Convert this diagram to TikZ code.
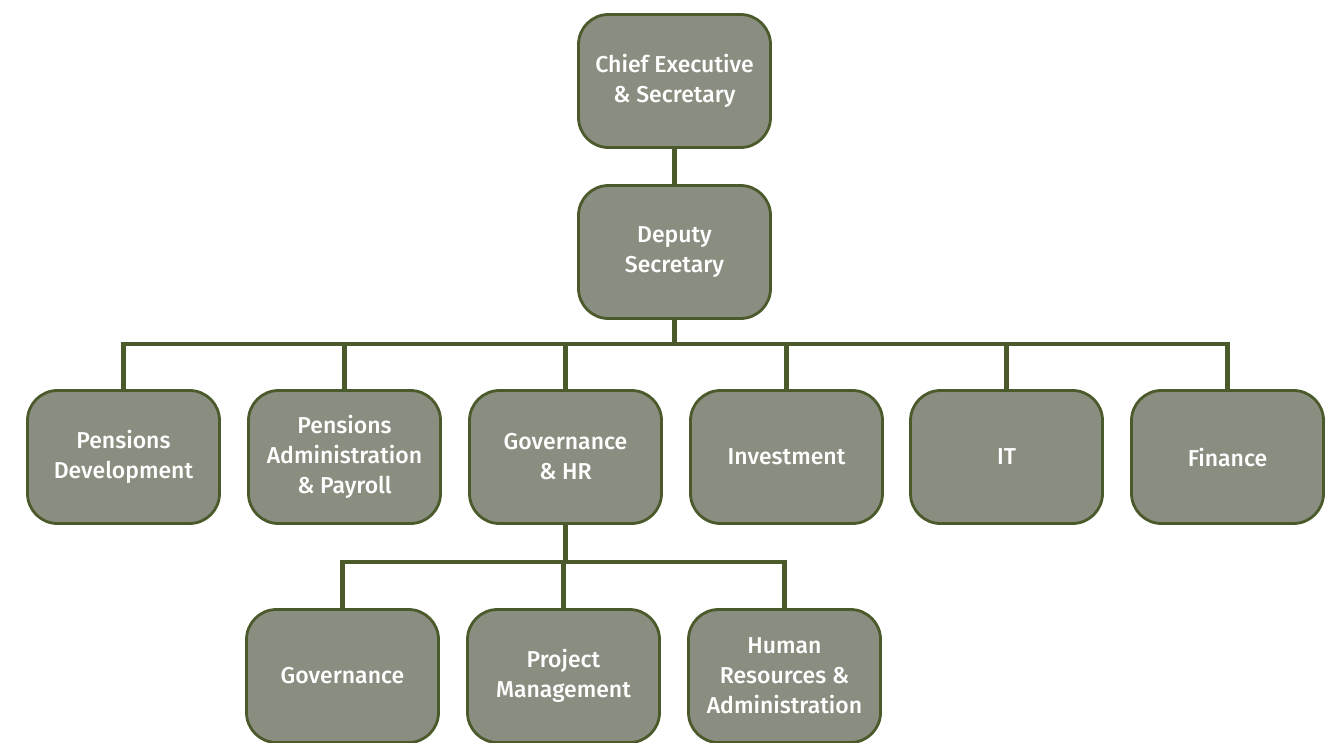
\documentclass[tikz,border=0pt]{standalone}
\usepackage{fontspec}
\setmainfont{Fira Sans}[UprightFont=* Medium]
\definecolor{boxfill}{HTML}{898E80}
\definecolor{edge}{HTML}{4B5A2B}
\begin{document}
\begin{tikzpicture}[x=1pt,y=-1pt,
  unit/.style={draw=edge,line width=2.8pt,fill=boxfill,rounded corners=30pt,
    minimum width=192pt,minimum height=133pt,align=center,text=white,
    font=\fontsize{23}{30}\selectfont,inner sep=0pt},
  link/.style={draw=edge,line width=4.2pt}]
\useasboundingbox (0,0) rectangle (1335,742);
\begin{scope}
\clip (0,0) rectangle (1335,742);
\node[unit] (ce) at (674.5,81) {Chief Executive\\\& Secretary};
\node[unit] (ds) at (674.5,252) {Deputy\\Secretary};
\node[unit] (pd) at (123.5,457) {Pensions\\Development};
\node[unit] (pa) at (344.5,457) {Pensions\\Administration\\\& Payroll};
\node[unit] (gh) at (565.5,457) {Governance\\\& HR};
\node[unit] (inv) at (786.5,457) {Investment};
\node[unit] (it) at (1006.5,457) {IT};
\node[unit] (fin) at (1227.5,457) {Finance};
\node[unit] (gov) at (342.5,676) {Governance};
\node[unit] (pm) at (563.5,676) {Project\\Management};
\node[unit] (hr) at (784.5,676) {Human\\Resources \&\\Administration};
\coordinate (bus) at (674.5,344);
\coordinate (bus2) at (565.5,562);
\draw[link] (ce.south) -- (ds.north);
\draw[link] (ds.south) -- (bus);
\draw[link,line join=miter] (pd.north) |- (bus) -| (fin.north);
\foreach \n in {pa,gh,inv,it}{\draw[link] (\n.north) -- (\n.north |- bus);}
\draw[link] (gh.south) -- (bus2);
\draw[link] (gov.north) |- (bus2) -| (hr.north);
\draw[link] (pm.north) -- (pm.north |- bus2);
\end{scope}
\end{tikzpicture}
\end{document}
